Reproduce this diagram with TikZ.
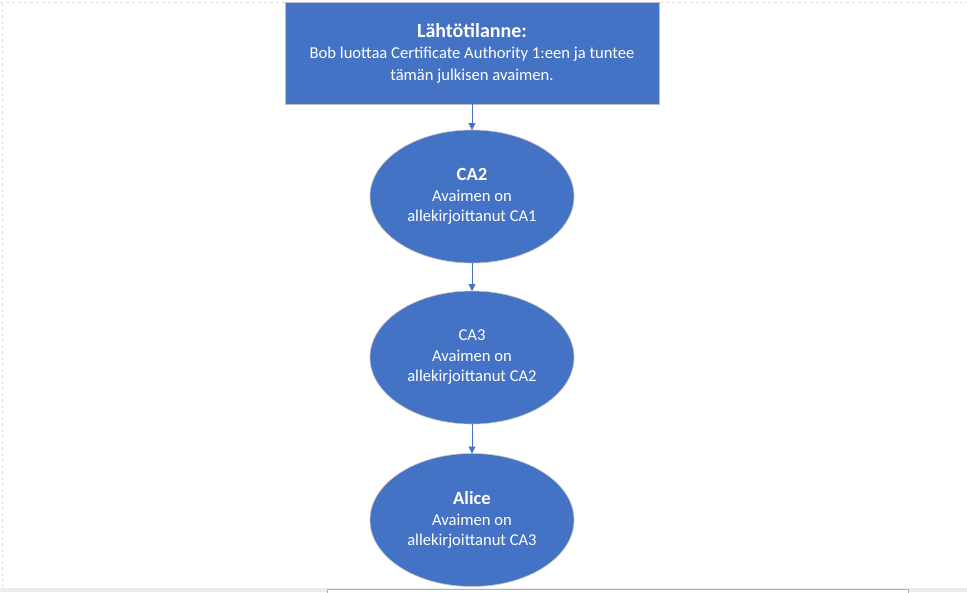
\documentclass[tikz,border=0pt]{standalone}
\usepackage{fontspec}
\setmainfont{Carlito}
\usetikzlibrary{shapes.geometric,arrows.meta}
\definecolor{accentblue}{HTML}{4472C4}
\definecolor{edgegray}{HTML}{BFBFBF}
\newcommand{\boxtitle}[1]{{\fontsize{20}{21.5}\selectfont\bfseries #1}}
\newcommand{\elltitle}[1]{{\fontsize{18.6}{20.5}\selectfont\bfseries #1}}
\tikzset{
  boxnode/.style={rectangle, fill=accentblue, draw=edgegray, line width=0.8pt,
    minimum width=374pt, minimum height=102pt, inner sep=0pt, outer sep=0pt,
    text=white, align=center, font=\fontsize{16.6}{21.5}\selectfont},
  ellnode/.style={ellipse, fill=accentblue, draw=edgegray, line width=0.6pt,
    minimum width=204pt, minimum height=133pt, inner sep=0pt, outer sep=0pt,
    text=white, align=center, font=\fontsize{16.6}{20.5}\selectfont},
  arr/.style={draw=accentblue, line width=0.9pt, -{Triangle[length=7pt,width=7pt]}},
  pageline/.style={draw=gray!25, dashed, line width=0.8pt}
}
\begin{document}
\begin{tikzpicture}[x=1pt,y=-1pt]
\useasboundingbox (0,0) rectangle (967,592);
\fill[white] (0,0) rectangle (967,592);
% page edges
\draw[pageline] (0,2.5) -- (967,2.5);
\draw[pageline] (2.5,2.5) -- (2.5,588);
\fill[gray!15] (0,588) rectangle (967,592);
\draw[fill=white, draw=gray!60, line width=0.6pt] (327,589) rectangle (908,593);
% nodes
\node[boxnode] (start) at (472,53) {\boxtitle{Lähtötilanne:}\\Bob luottaa Certificate Authority 1:een ja tuntee\\tämän julkisen avaimen.};
\node[ellnode] (ca2) at (472,196.5) {\elltitle{CA2}\\Avaimen on\\allekirjoittanut CA1};
\node[ellnode] (ca3) at (472,357.5) {CA3\\Avaimen on\\allekirjoittanut CA2};
\node[ellnode] (alice) at (472,520) {\elltitle{Alice}\\Avaimen on\\allekirjoittanut CA3};
% connectors
\draw[arr] (start) -- (ca2);
\draw[arr] (ca2) -- (ca3);
\draw[arr] (ca3) -- (alice);
\end{tikzpicture}
\end{document}
